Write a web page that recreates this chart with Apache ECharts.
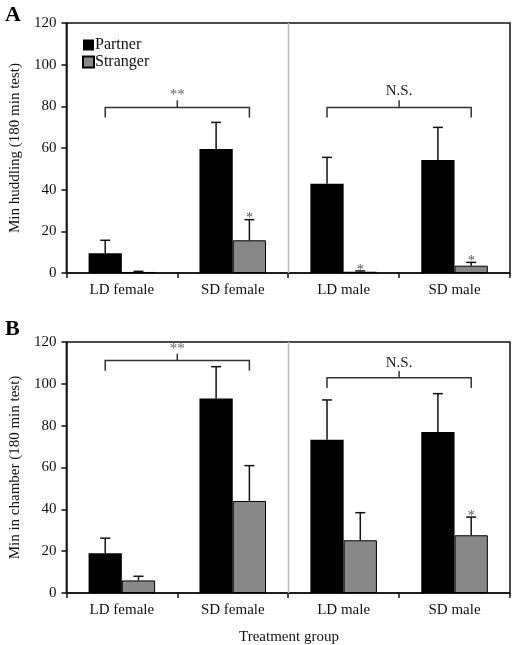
<!DOCTYPE html>
<html>
<head>
<meta charset="utf-8">
<script src="https://cdn.jsdelivr.net/npm/echarts@6/dist/echarts.min.js"></script>
<style>html,body{margin:0;padding:0;background:#fff}#c{width:512px;height:645px}</style>
</head>
<body>
<div id="c"></div>
<script>
var categories = ['LD female', 'SD female', 'LD male', 'SD male'];
var yTicks = [0, 20, 40, 60, 80, 100, 120];

// Panel A: Min huddling
var huddlePartner = [9.5, 59.5, 42.8, 54.3];
var huddlePartnerSE = [6.2, 12.8, 12.7, 15.6];
var huddleStranger = [0.5, 15.7, 0.6, 3.5];
var huddleStrangerSE = [0.3, 9.9, 0.4, 1.6];
var huddleStars = [0, 1, 1, 1];
// [fromCategory, toCategory, bracket level, label]
var huddleBrackets = [[0, 1, 79.4, '**'], [2, 3, 79.4, 'N.S.']];

// Panel B: Min in chamber
var chamberPartner = [19.0, 93.0, 73.3, 77.0];
var chamberPartnerSE = [7.2, 15.2, 19.0, 18.3];
var chamberStranger = [6.0, 44.0, 25.2, 27.6];
var chamberStrangerSE = [2.0, 16.9, 13.2, 8.7];
var chamberStars = [0, 0, 0, 1];
var chamberBrackets = [[0, 1, 111.2, '**'], [2, 3, 102.9, 'N.S.']];

var FONT = 'Liberation Serif';

function errData(vals, se, stars) {
  return vals.map(function (v, i) { return [i, v, se[i], stars ? stars[i] : 0]; });
}

function errSeries(gi, vals, se, side, stars) {
  return {
    type: 'custom', xAxisIndex: gi, yAxisIndex: gi, z: 5, silent: true,
    data: errData(vals, se, stars),
    encode: { x: 0, y: 1 },
    renderItem: function (params, api) {
      var i = api.value(0), v = api.value(1), e = api.value(2), st = api.value(3);
      var band = api.size([1, 0])[0];
      var off = side * band * 0.15;
      var p0 = api.coord([i, v]);
      var p1 = api.coord([i, v + e]);
      var x = p0[0] + off;
      var cap = 5;
      var children = [
        { type: 'line', shape: { x1: x, y1: p0[1], x2: x, y2: p1[1] }, style: { stroke: '#111', lineWidth: 1.5 } },
        { type: 'line', shape: { x1: x - cap, y1: p1[1], x2: x + cap, y2: p1[1] }, style: { stroke: '#111', lineWidth: 1.5 } }
      ];
      if (st) {
        children.push({ type: 'text', style: { text: '*', x: x, y: p1[1] + 6, align: 'center', verticalAlign: 'bottom', fontSize: 14, fontFamily: FONT, fill: '#555' } });
      }
      return { type: 'group', children: children };
    }
  };
}

function bracketSeries(gi, brackets, drop, rise, labelGap) {
  return {
    type: 'custom', xAxisIndex: gi, yAxisIndex: gi, z: 5, silent: true,
    data: brackets,
    encode: { x: 0, y: 2 },
    renderItem: function (params, api) {
      var a = api.value(0), b = api.value(1), lvl = api.value(2);
      var lab = brackets[params.dataIndex][3];
      var band = api.size([1, 0])[0];
      var xa = api.coord([a, lvl])[0] - band * 0.15;
      var xb = api.coord([b, lvl])[0] + band * 0.15;
      var y = api.coord([a, lvl])[1];
      var yd = api.coord([a, lvl - drop])[1];
      var yu = api.coord([a, lvl + rise])[1];
      var xm = (xa + xb) / 2;
      var st = { stroke: '#333', lineWidth: 1.5, fill: null };
      var isStar = lab === '**';
      return { type: 'group', children: [
        { type: 'polyline', shape: { points: [[xa, yd], [xa, y], [xb, y], [xb, yd]] }, style: st },
        { type: 'line', shape: { x1: xm, y1: y, x2: xm, y2: yu }, style: st },
        { type: 'text', style: { text: lab, x: xm, y: yu - (isStar ? labelGap - 4 : labelGap), align: 'center', verticalAlign: 'bottom', fontSize: isStar ? 15 : 15, fontFamily: FONT, fill: isStar ? '#666' : '#222' } }
      ] };
    }
  };
}

function dividerSeries(gi) {
  return {
    type: 'custom', xAxisIndex: gi, yAxisIndex: gi, z: 1, silent: true,
    data: [[1, 0]],
    encode: { x: 0, y: 1 },
    renderItem: function (params, api) {
      var band = api.size([1, 0])[0];
      var p = api.coord([1, 0]);
      var top = api.coord([1, 120]);
      var x = Math.round(p[0] + band / 2) + 0.5;
      return { type: 'line', shape: { x1: x, y1: p[1], x2: x, y2: top[1] }, style: { stroke: '#bbb', lineWidth: 1.5 } };
    }
  };
}

function xAxis(gi) {
  return {
    type: 'category', gridIndex: gi, data: categories,
    axisLine: { lineStyle: { color: '#111', width: 1.5 } },
    axisTick: { show: true, alignWithLabel: false, length: 5, lineStyle: { color: '#111', width: 1.5 } },
    axisLabel: { color: '#111', fontFamily: FONT, fontSize: 15, margin: 10 }
  };
}

function yAxis(gi, name) {
  return {
    type: 'value', gridIndex: gi, min: yTicks[0], max: yTicks[yTicks.length - 1], interval: 20,
    name: name, nameLocation: 'middle', nameGap: 43, nameRotate: 90,
    nameTextStyle: { color: '#111', fontFamily: FONT, fontSize: 15 },
    axisLine: { show: true, lineStyle: { color: '#111', width: 1.5 } },
    axisTick: { show: true, length: 5, lineStyle: { color: '#111', width: 1.5 } },
    axisLabel: { color: '#111', fontFamily: FONT, fontSize: 15, margin: 10 },
    splitLine: { show: false }
  };
}

function bars(gi, name, vals, color, border) {
  return {
    type: 'bar', name: name, xAxisIndex: gi, yAxisIndex: gi, data: vals,
    barGap: '0%', barCategoryGap: '40%',
    itemStyle: { color: color, borderColor: '#000', borderWidth: border },
    emphasis: { disabled: true }
  };
}

var chart = echarts.init(document.getElementById('c'), null, { renderer: 'canvas' });
chart.setOption({
  animation: false,
  backgroundColor: '#fff',
  grid: [
    { left: 66, top: 23, right: 2, height: 250, show: true, borderColor: '#111', borderWidth: 1.5, backgroundColor: 'transparent' },
    { left: 66, top: 342, right: 2, height: 251, show: true, borderColor: '#111', borderWidth: 1.5, backgroundColor: 'transparent' }
  ],
  legend: {
    data: ['Partner', 'Stranger'], orient: 'vertical', left: 77, top: 32,
    itemWidth: 11, itemHeight: 11, itemGap: 1, icon: 'rect',
    textStyle: { fontFamily: FONT, fontSize: 16, color: '#111', padding: [0, 0, 0, -4] },
    selectedMode: false
  },
  xAxis: [xAxis(0), xAxis(1)],
  yAxis: [yAxis(0, 'Min huddling (180 min test)'), yAxis(1, 'Min in chamber (180 min test)')],
  graphic: [
    { type: 'text', left: 5, top: 4, style: { text: 'A', fontFamily: FONT, fontWeight: 'bold', fontSize: 22, fill: '#000' } },
    { type: 'text', left: 5, top: 318, style: { text: 'B', fontFamily: FONT, fontWeight: 'bold', fontSize: 22, fill: '#000' } },
    { type: 'text', x: 289, y: 637, style: { text: 'Treatment group', fontFamily: FONT, fontSize: 15, fill: '#111', align: 'center', verticalAlign: 'middle' } }
  ],
  series: [
    dividerSeries(0), dividerSeries(1),
    bars(0, 'Partner', huddlePartner, '#000', 0),
    bars(0, 'Stranger', huddleStranger, '#888', 1),
    bars(1, 'Partner', chamberPartner, '#000', 0),
    bars(1, 'Stranger', chamberStranger, '#888', 1),
    errSeries(0, huddlePartner, huddlePartnerSE, -1, null),
    errSeries(0, huddleStranger, huddleStrangerSE, 1, huddleStars),
    errSeries(1, chamberPartner, chamberPartnerSE, -1, null),
    errSeries(1, chamberStranger, chamberStrangerSE, 1, chamberStars),
    bracketSeries(0, huddleBrackets, 4.8, 3.5, 2),
    bracketSeries(1, chamberBrackets, 4.9, 3.2, 1)
  ]
});
</script>
</body>
</html>
